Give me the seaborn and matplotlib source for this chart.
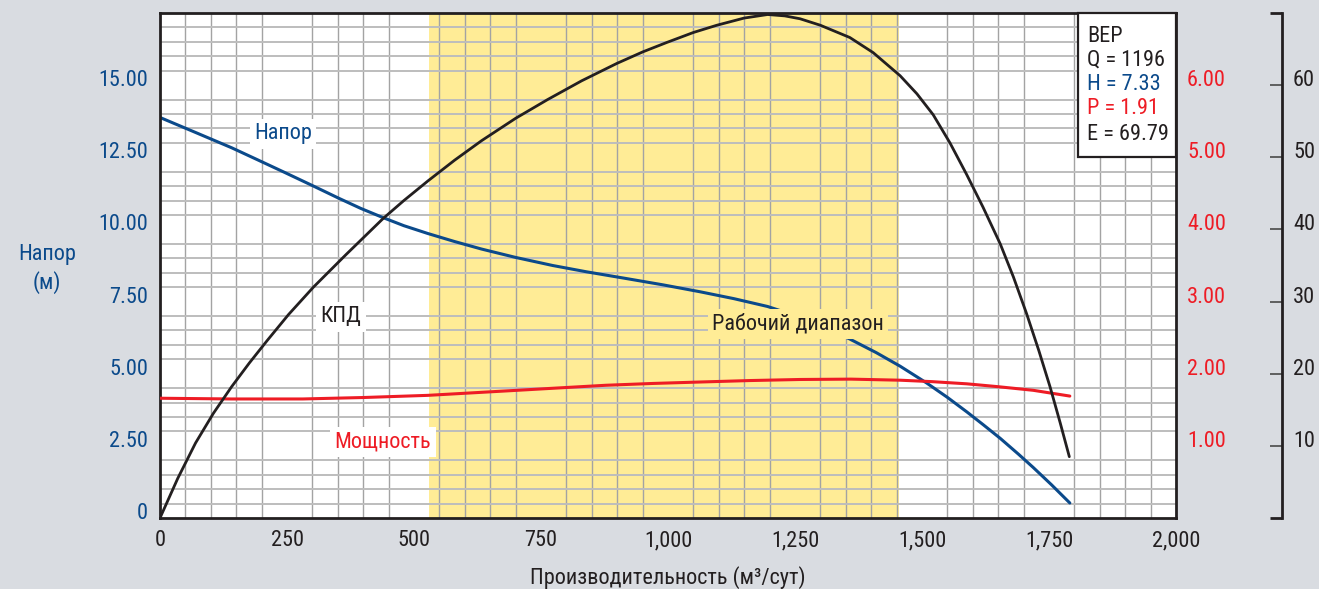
import numpy as np
import pandas as pd
import matplotlib
matplotlib.use("Agg")
import matplotlib.pyplot as plt
import seaborn as sns
from matplotlib.transforms import ScaledTranslation
from matplotlib.patches import Rectangle
from matplotlib import font_manager

# ---------------- data ----------------
flow_head = [0, 70, 141, 190, 246, 300, 352, 395, 439, 480, 527, 580, 633, 700, 773, 840, 914, 990,
             1063, 1130, 1196, 1250, 1300, 1358, 1410, 1457, 1509, 1550, 1588, 1620, 1654, 1690, 1719,
             1755, 1791]
head = [13.88, 13.36, 12.83, 12.43, 11.97, 11.52, 11.08, 10.73, 10.41, 10.13, 9.86, 9.58, 9.32, 9.03,
        8.75, 8.53, 8.31, 8.08, 7.84, 7.60, 7.33, 7.02, 6.68, 6.20, 5.73, 5.26, 4.68, 4.18, 3.68, 3.24,
        2.76, 2.21, 1.75, 1.15, 0.52]

flow_eff = [0, 35, 70, 105, 141, 176, 211, 253, 302, 366, 439, 480, 527, 580, 633, 700, 763, 830, 899,
            950, 997, 1050, 1096, 1150, 1196, 1230, 1260, 1300, 1358, 1404, 1457, 1490, 1522, 1555,
            1588, 1620, 1654, 1680, 1706, 1730, 1752, 1772, 1790]
eff = [0, 5.5, 10.4, 14.5, 18.2, 21.5, 24.6, 28.2, 32.0, 36.5, 41.5, 44.0, 46.7, 49.6, 52.3, 55.4, 58.0,
       60.6, 63.0, 64.6, 65.9, 67.3, 68.3, 69.3, 69.79, 69.6, 69.2, 68.3, 66.6, 64.5, 61.3, 58.8, 55.9,
       52.0, 47.6, 43.1, 38.0, 33.4, 28.3, 23.2, 18.2, 13.2, 8.5]

flow_pow = [0, 141, 281, 400, 527, 615, 703, 790, 878, 970, 1063, 1160, 1260, 1360, 1457, 1520, 1588,
            1650, 1719, 1791]
power = [1.66, 1.65, 1.65, 1.67, 1.70, 1.735, 1.77, 1.805, 1.84, 1.865, 1.885, 1.905, 1.92, 1.925, 1.91,
         1.89, 1.86, 1.82, 1.77, 1.69]

work_range = [530, 1455]

x_ticks = [0, 250, 500, 750, 1000, 1250, 1500, 1750, 2000]
x_tick_labels = ["0", "250", "500", "750", "1,000", "1,250", "1,500", "1,750", "2,000"]
h_ticks = [0, 2.5, 5, 7.5, 10, 12.5, 15]
h_tick_labels = ["0", "2.50", "5.00", "7.50", "10.00", "12.50", "15.00"]
p_ticks = [1, 2, 3, 4, 5, 6]
p_tick_labels = ["1.00", "2.00", "3.00", "4.00", "5.00", "6.00"]
e_ticks = [10, 20, 30, 40, 50, 60]
e_tick_labels = ["10", "20", "30", "40", "50", "60"]

bep_q, bep_h, bep_p, bep_e = 1196, 7.33, 1.91, 69.79

# ---------------- style ----------------
BLUE = "#0b4a8b"
RED = "#ee1c25"
BLACK = "#231f20"
YELLOW = "#ffec96"
BG = "#d9dce1"

sns.set_style("white")
available = {f.name for f in font_manager.fontManager.ttflist}
fams = [f for f in ["Roboto Condensed", "Liberation Sans Narrow", "Open Sans Condensed", "Roboto"] if f in available]
plt.rcParams["font.family"] = fams + ["DejaVu Sans"]
FS = 16

W, H = 1319, 589
fig = plt.figure(figsize=(W / 100, H / 100), dpi=100, facecolor=BG)
L, R, T, B = 160, 1176, 13, 518
ax = fig.add_axes([L / W, (H - B) / H, (R - L) / W, (B - T) / H])
ax.set_facecolor("white")

ax.set_xlim(0, 2000)
ax.set_ylim(0, 17.5)

# working range band
ax.axvspan(work_range[0], work_range[1], color=YELLOW, zorder=0.2, lw=0)

# grid
ax.set_xticks(np.arange(0, 2001, 50), minor=True)
ax.set_yticks(np.arange(0, 17.51, 0.5), minor=True)
ax.set_axisbelow(True)
ax.grid(which="minor", axis="x", color="#a3a3a3", lw=1.0)
ax.grid(which="minor", axis="y", color="#bdbdbd", lw=1.4)
ax.grid(which="major", visible=False)

ax.set_xticks(x_ticks)
ax.set_xticklabels(x_tick_labels, fontsize=FS, color=BLACK)
ax.set_yticks(h_ticks)
ax.set_yticklabels(h_tick_labels, fontsize=FS, color=BLUE)
ax.tick_params(axis="both", which="both", length=0)
ax.tick_params(axis="y", pad=8.5)
ax.tick_params(axis="x", pad=9)
for sp in ax.spines.values():
    sp.set_color(BLACK)
    sp.set_linewidth(2.0)
    sp.set_zorder(5)

up = ScaledTranslation(0, 7 / 100, fig.dpi_scale_trans)
for lab in ax.get_yticklabels():
    lab.set_transform(lab.get_transform() + up)

# power axis (red)
ax2 = ax.twinx()
ax2.set_ylim(0, 7)
ax2.set_yticks(p_ticks)
ax2.set_yticklabels(p_tick_labels, fontsize=FS, color=RED)
ax2.tick_params(axis="y", length=0, pad=8)
for sp in ax2.spines.values():
    sp.set_visible(False)
for lab in ax2.get_yticklabels():
    lab.set_transform(lab.get_transform() + up)

# efficiency axis (black bracket)
ax3 = ax.twinx()
ax3.set_ylim(0, 70)
ax3.set_xlim(0, 2000)
for k, sp in ax3.spines.items():
    sp.set_visible(k == "right")
ax3.spines["right"].set_position(("outward", 106 * 0.72))
ax3.spines["right"].set_color(BLACK)
ax3.spines["right"].set_linewidth(2.0)
ax3.set_yticks(e_ticks)
ax3.set_yticklabels(e_tick_labels, fontsize=FS, color=BLACK)
ax3.set_yticks([0, 70], minor=True)
ax3.tick_params(axis="y", which="major", direction="in", length=8.5, width=1.3, color="#555555", pad=8)
ax3.tick_params(axis="y", which="minor", direction="in", length=8.5, width=2.0, color=BLACK)
for lab in ax3.get_yticklabels():
    lab.set_transform(lab.get_transform() + up)

# curves
df_h = pd.DataFrame({"Q": flow_head, "H": head})
df_e = pd.DataFrame({"Q": flow_eff, "E": eff})
df_p = pd.DataFrame({"Q": flow_pow, "P": power})
sns.lineplot(data=df_h, x="Q", y="H", ax=ax, color=BLUE, lw=2.2, zorder=3)
sns.lineplot(data=df_p, x="Q", y="P", ax=ax2, color=RED, lw=2.2, zorder=3)
sns.lineplot(data=df_e, x="Q", y="E", ax=ax3, color=BLACK, lw=2.0, zorder=3)
for a in (ax, ax2, ax3):
    a.set_xlabel("")
    a.set_ylabel("")

# curve labels (drawn on top axes, positioned in head/flow coordinates)
def lab(x, y, s, color, fc):
    ax3.text(x, y, s, transform=ax.transData, fontsize=FS, color=color, ha="center", va="center",
             zorder=6, bbox=dict(boxstyle="square,pad=0.2", fc=fc, ec="none"))

lab(242, 13.31, "Напор", BLUE, "white")
lab(356, 6.98, "КПД", BLACK, "white")
lab(1256, 6.71, "Рабочий диапазон", BLACK, YELLOW)
lab(439, 2.63, "Мощность", RED, "white")

# BEP box
x0 = (1078 - L) / (R - L)
y0 = (B - 157) / (B - T)
ax3.add_patch(Rectangle((x0, y0), 1 - x0, 1 - y0, transform=ax3.transAxes, fc="white",
                        ec=BLACK, lw=1.6, zorder=7, clip_on=False))
tx = (1087 - L) / (R - L)
lines = [("BEP", BLACK), (f"Q = {bep_q}", BLACK), (f"H = {bep_h:.2f}", BLUE),
         (f"P = {bep_p:.2f}", RED), (f"E = {bep_e:.2f}", BLACK)]
for (s, c), py in zip(lines, [37, 60, 85, 109, 134]):
    ax3.text(tx, (B - py) / (B - T), s, transform=ax3.transAxes, fontsize=FS, color=c,
             ha="left", va="center", zorder=8)

# axis titles
fig.text(47 / W, 1 - 269 / H, "Напор\n(м)", color=BLUE, fontsize=FS, ha="center", va="center",
         linespacing=1.3)
fig.text((L + R) / 2 / W, 1 - 578 / H, "Производительность (м³/сут)", color=BLACK, fontsize=FS,
         ha="center", va="center")

fig.savefig("out.png", dpi=100, facecolor=BG)
